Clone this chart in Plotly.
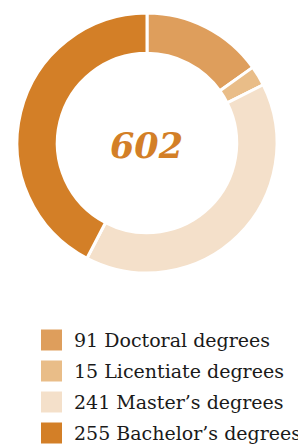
import plotly.graph_objects as go

labels = ["Doctoral degrees", "Licentiate degrees", "Master’s degrees", "Bachelor’s degrees"]
values = [91, 15, 241, 255]
colors = ["#DE9E5C", "#E9BD88", "#F4E0CA", "#D37F27"]
total_label = "602"

W, H = 306, 444
OFF = 8  # page body margin offset

def px(x):
    return (x - OFF) / W

def py(y):
    return 1 - (y - OFF) / H

fig = go.Figure()
fig.add_trace(go.Pie(
    labels=labels,
    values=values,
    marker=dict(colors=colors, line=dict(color="white", width=3)),
    hole=0.69,
    sort=False,
    direction="clockwise",
    rotation=0,
    textinfo="none",
    hoverinfo="label+value",
    showlegend=False,
    domain=dict(x=[px(17), px(277)], y=[py(273), py(13)]),
))

fig.add_annotation(
    x=px(146), y=py(145), xref="paper", yref="paper",
    text=total_label, showarrow=False,
    font=dict(family="DejaVu Serif", size=35, color="#D37F27", weight="bold", style="italic"),
    xanchor="center", yanchor="middle",
)

row0 = 340
step = 31
for i, (lab, val, col) in enumerate(zip(labels, values, colors)):
    cy = row0 + i * step
    fig.add_shape(type="rect", xref="paper", yref="paper",
                  x0=px(41), x1=px(62), y0=py(cy - 10.5), y1=py(cy + 10.5),
                  fillcolor=col, line=dict(width=0))
    fig.add_annotation(
        x=px(72), y=py(cy), xref="paper", yref="paper",
        text=f"{val} {lab}", showarrow=False,
        font=dict(family="DejaVu Serif", size=19, color="#1a1a1a"),
        xanchor="left", yanchor="middle",
    )

fig.update_layout(
    width=W, height=H,
    margin=dict(l=0, r=0, t=0, b=0),
    paper_bgcolor="white", plot_bgcolor="white",
)
fig.write_html("out.html")
